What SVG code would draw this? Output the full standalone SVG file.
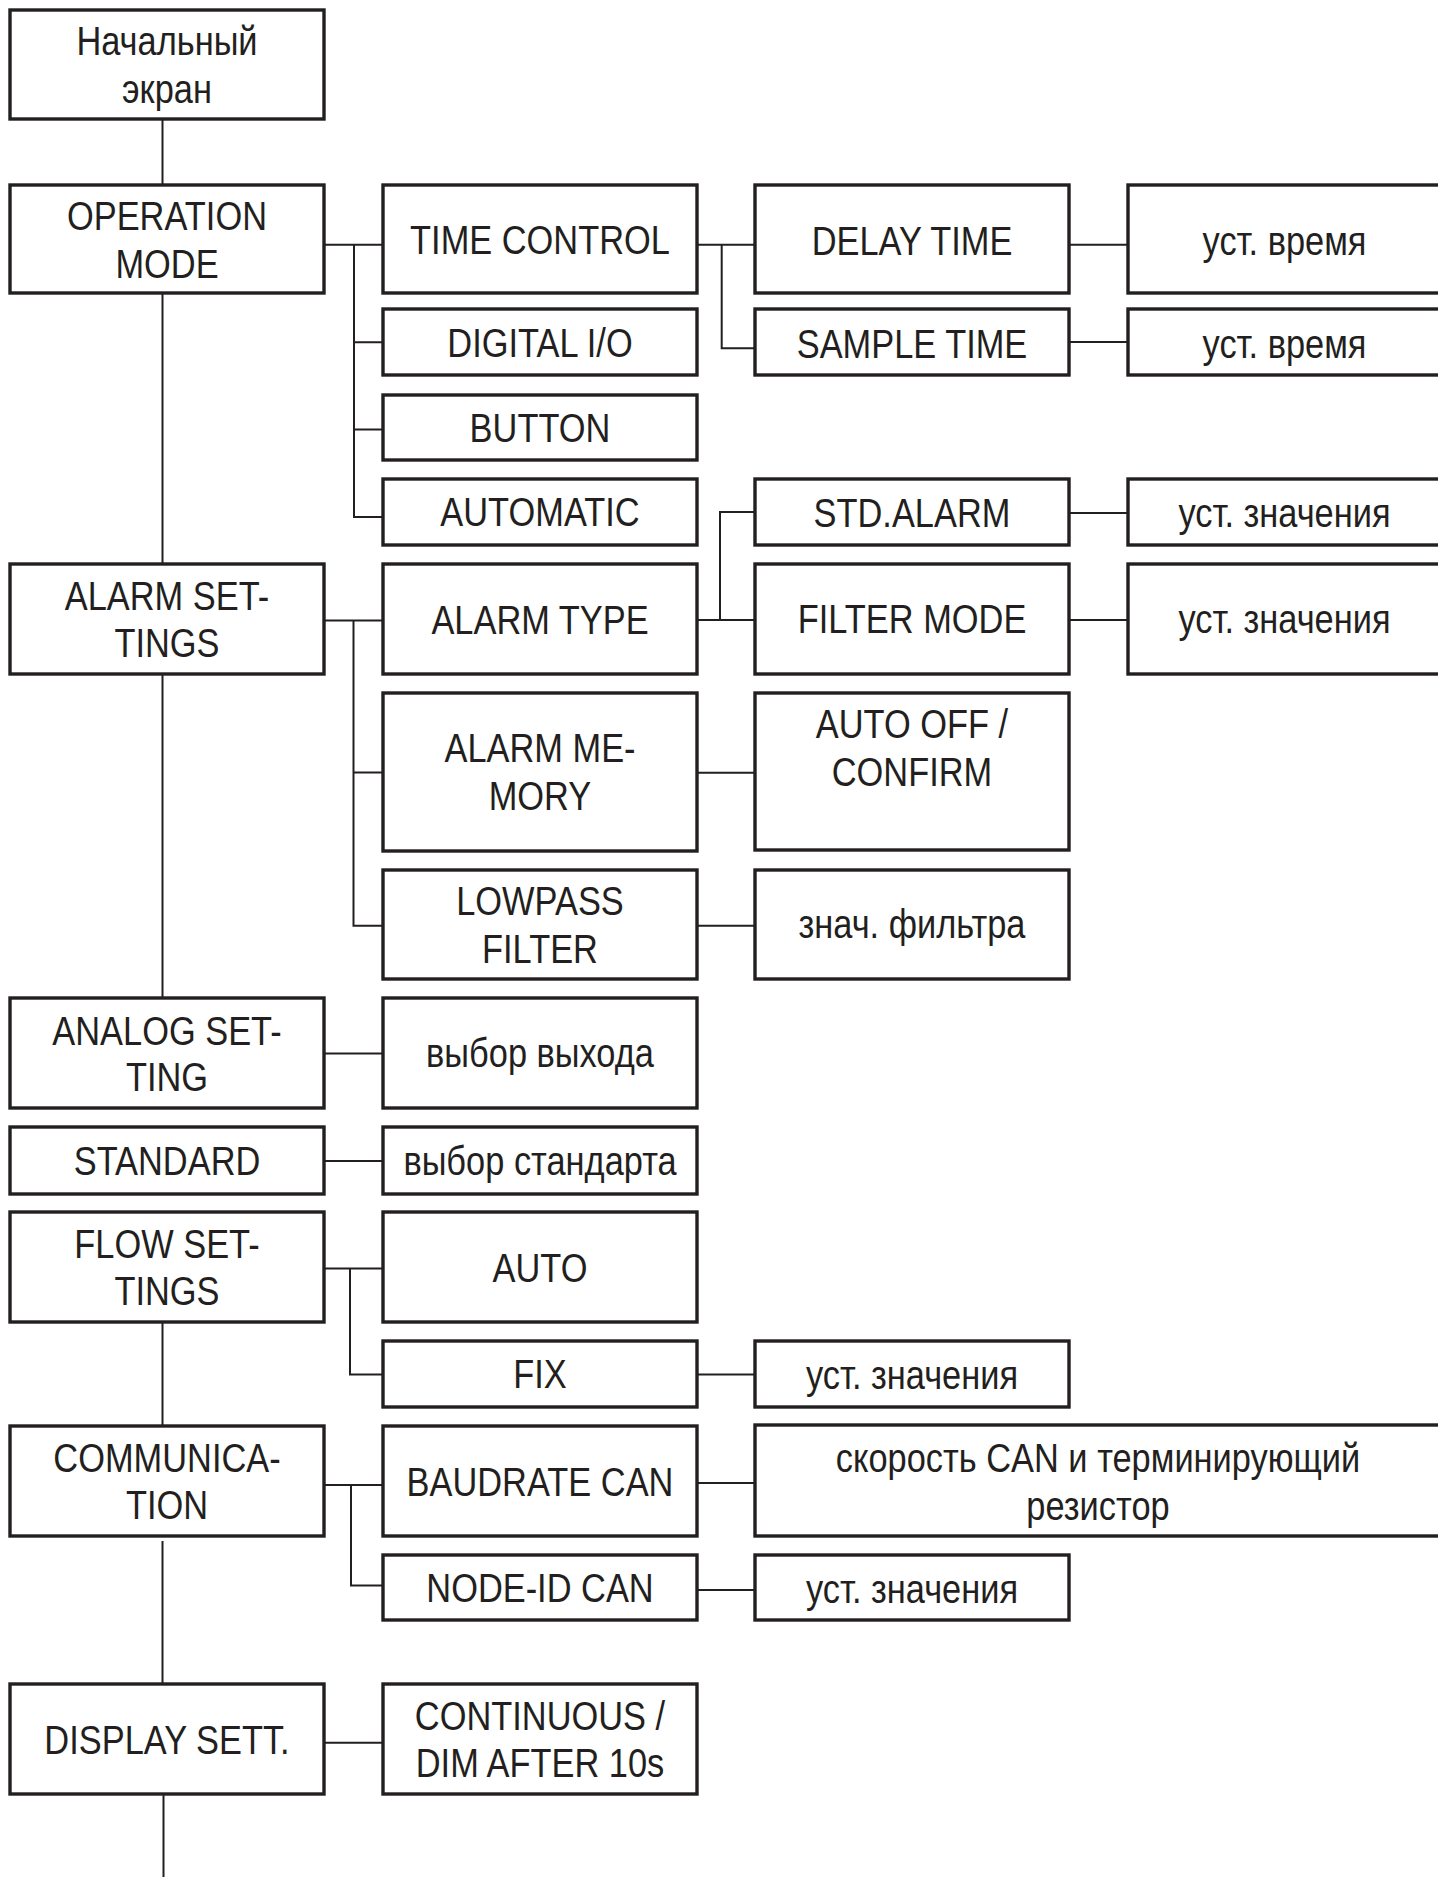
<svg xmlns="http://www.w3.org/2000/svg" width="1438" height="1877" viewBox="0 0 1438 1877">
<style>
.box{fill:#fff;stroke:#231f20;stroke-width:3.4}
.ln{fill:none;stroke:#231f20;stroke-width:2}
.tk{fill:none;stroke:#231f20;stroke-width:1.4}
.t{font-family:"Liberation Sans",Arial,sans-serif;font-size:40px;fill:#231f20;text-anchor:middle}
</style>
<rect width="1438" height="1877" fill="#fff"/>
<g id="connectors">
<path class="ln" d="M162.5 119V185M162.5 293V564M162.5 668V998M162.5 1317V1426M162.5 1541V1684M163.5 1794V1877"/>
<path class="tk" d="M162.5 1073V1092M162.5 1147V1167"/>
<path class="ln" d="M324 244.7H383M354 244.7V517H383M354 342.3H383M354 429.5H383"/>
<path class="ln" d="M697 244.7H755M721.7 244.7V348.3H755"/>
<path class="ln" d="M1069 244.7H1128M1069 342H1128"/>
<path class="ln" d="M324 620.5H383M353.5 620.5V925.7H383M353.5 772.5H383"/>
<path class="ln" d="M697 620H755M720 620V512H755"/>
<path class="ln" d="M1069 513H1128M1069 620H1128"/>
<path class="ln" d="M697 772.7H755M697 925.7H755"/>
<path class="ln" d="M324 1053.6H383M324 1161H386"/>
<path class="ln" d="M324 1268.6H383M350 1268.6V1374.6H383M697 1374.5H755"/>
<path class="ln" d="M324 1485H383M351 1485V1585.5H383M697 1483H755M697 1590H755"/>
<path class="ln" d="M324 1742.7H383"/>
</g>
<g id="n_start"><rect class="box" x="10" y="10" width="314" height="109"/>
<text class="t" transform="translate(167 55) scale(0.86 1)"><tspan x="0">Начальный</tspan><tspan x="0" dy="48">экран</tspan></text></g>
<g id="n_opmode"><rect class="box" x="10" y="185" width="314" height="108"/>
<text class="t" transform="translate(167 230) scale(0.86 1)"><tspan x="0">OPERATION</tspan><tspan x="0" dy="48">MODE</tspan></text></g>
<g id="n_alarm"><rect class="box" x="10" y="564" width="314" height="110"/>
<text class="t" transform="translate(167 609.5) scale(0.86 1)"><tspan x="0">ALARM SET-</tspan><tspan x="0" dy="47.5">TINGS</tspan></text></g>
<g id="n_analog"><rect class="box" x="10" y="998" width="314" height="110"/>
<text class="t" transform="translate(167 1044.5) scale(0.86 1)"><tspan x="0">ANALOG SET-</tspan><tspan x="0" dy="47">TING</tspan></text></g>
<g id="n_standard"><rect class="box" x="10" y="1127" width="314" height="67"/>
<text class="t" transform="translate(167 1174.5) scale(0.86 1)">STANDARD</text></g>
<g id="n_flow"><rect class="box" x="10" y="1212" width="314" height="110"/>
<text class="t" transform="translate(167 1257.5) scale(0.86 1)"><tspan x="0">FLOW SET-</tspan><tspan x="0" dy="47.5">TINGS</tspan></text></g>
<g id="n_comm"><rect class="box" x="10" y="1426" width="314" height="110"/>
<text class="t" transform="translate(167 1472) scale(0.86 1)"><tspan x="0">COMMUNICA-</tspan><tspan x="0" dy="47.5">TION</tspan></text></g>
<g id="n_display"><rect class="box" x="10" y="1684" width="314" height="110"/>
<text class="t" transform="translate(167 1754) scale(0.86 1)">DISPLAY SETT.</text></g>

<g id="n_timecontrol"><rect class="box" x="383" y="185" width="314" height="108"/>
<text class="t" transform="translate(540 254) scale(0.86 1)">TIME CONTROL</text></g>
<g id="n_digital"><rect class="box" x="383" y="309" width="314" height="66"/>
<text class="t" transform="translate(540 357) scale(0.86 1)">DIGITAL I/O</text></g>
<g id="n_button"><rect class="box" x="383" y="395" width="314" height="65"/>
<text class="t" transform="translate(540 442) scale(0.86 1)">BUTTON</text></g>
<g id="n_automatic"><rect class="box" x="383" y="479" width="314" height="66"/>
<text class="t" transform="translate(540 526) scale(0.86 1)">AUTOMATIC</text></g>
<g id="n_alarmtype"><rect class="box" x="383" y="564" width="314" height="110"/>
<text class="t" transform="translate(540 633.5) scale(0.86 1)">ALARM TYPE</text></g>
<g id="n_alarmmem"><rect class="box" x="383" y="693" width="314" height="158"/>
<text class="t" transform="translate(540 762) scale(0.86 1)"><tspan x="0">ALARM ME-</tspan><tspan x="0" dy="48">MORY</tspan></text></g>
<g id="n_lowpass"><rect class="box" x="383" y="870" width="314" height="109"/>
<text class="t" transform="translate(540 915) scale(0.86 1)"><tspan x="0">LOWPASS</tspan><tspan x="0" dy="48">FILTER</tspan></text></g>
<g id="n_outsel"><rect class="box" x="383" y="998" width="314" height="110"/>
<text class="t" transform="translate(540 1067) scale(0.86 1)">выбор выхода</text></g>
<g id="n_stdsel"><rect class="box" x="383" y="1127" width="314" height="67"/>
<text class="t" transform="translate(540 1174.5) scale(0.86 1)">выбор стандарта</text></g>
<g id="n_auto"><rect class="box" x="383" y="1212" width="314" height="110"/>
<text class="t" transform="translate(540 1282) scale(0.86 1)">AUTO</text></g>
<g id="n_fix"><rect class="box" x="383" y="1341" width="314" height="66"/>
<text class="t" transform="translate(540 1388) scale(0.86 1)">FIX</text></g>
<g id="n_baud"><rect class="box" x="383" y="1426" width="314" height="110"/>
<text class="t" transform="translate(540 1496) scale(0.86 1)">BAUDRATE CAN</text></g>
<g id="n_nodeid"><rect class="box" x="383" y="1555" width="314" height="65"/>
<text class="t" transform="translate(540 1602) scale(0.86 1)">NODE-ID CAN</text></g>
<g id="n_continuous"><rect class="box" x="383" y="1684" width="314" height="110"/>
<text class="t" transform="translate(540 1730) scale(0.86 1)"><tspan x="0">CONTINUOUS /</tspan><tspan x="0" dy="47">DIM AFTER 10s</tspan></text></g>

<g id="n_delay"><rect class="box" x="755" y="185" width="314" height="108"/>
<text class="t" transform="translate(912 254.5) scale(0.86 1)">DELAY TIME</text></g>
<g id="n_sample"><rect class="box" x="755" y="309" width="314" height="66"/>
<text class="t" transform="translate(912 357.5) scale(0.86 1)">SAMPLE TIME</text></g>
<g id="n_stdalarm"><rect class="box" x="755" y="479" width="314" height="66"/>
<text class="t" transform="translate(912 527) scale(0.86 1)">STD.ALARM</text></g>
<g id="n_filtermode"><rect class="box" x="755" y="564" width="314" height="110"/>
<text class="t" transform="translate(912 633) scale(0.86 1)">FILTER MODE</text></g>
<g id="n_autooff"><rect class="box" x="755" y="693" width="314" height="157"/>
<text class="t" transform="translate(912 738) scale(0.86 1)"><tspan x="0">AUTO OFF /</tspan><tspan x="0" dy="48.5">CONFIRM</tspan></text></g>
<g id="n_filterval"><rect class="box" x="755" y="870" width="314" height="109"/>
<text class="t" transform="translate(912 938) scale(0.86 1)">знач. фильтра</text></g>
<g id="n_fixval"><rect class="box" x="755" y="1341" width="314" height="66"/>
<text class="t" transform="translate(912 1389) scale(0.86 1)">уст. значения</text></g>
<g id="n_canspeed"><rect class="box" x="755" y="1425" width="686" height="111"/>
<text class="t" transform="translate(1098 1472) scale(0.86 1)"><tspan x="0">скорость CAN и терминирующий</tspan><tspan x="0" dy="48">резистор</tspan></text></g>
<g id="n_nodeval"><rect class="box" x="755" y="1555" width="314" height="65"/>
<text class="t" transform="translate(912 1603) scale(0.86 1)">уст. значения</text></g>

<g id="n_delayval"><rect class="box" x="1128" y="185" width="313" height="108"/>
<text class="t" transform="translate(1284.5 255) scale(0.86 1)">уст. время</text></g>
<g id="n_sampleval"><rect class="box" x="1128" y="309" width="313" height="66"/>
<text class="t" transform="translate(1284.5 357.5) scale(0.86 1)">уст. время</text></g>
<g id="n_stdalarmval"><rect class="box" x="1128" y="479" width="313" height="66"/>
<text class="t" transform="translate(1284.5 527) scale(0.86 1)">уст. значения</text></g>
<g id="n_filtermodeval"><rect class="box" x="1128" y="564" width="313" height="110"/>
<text class="t" transform="translate(1284.5 633) scale(0.86 1)">уст. значения</text></g>
</svg>
